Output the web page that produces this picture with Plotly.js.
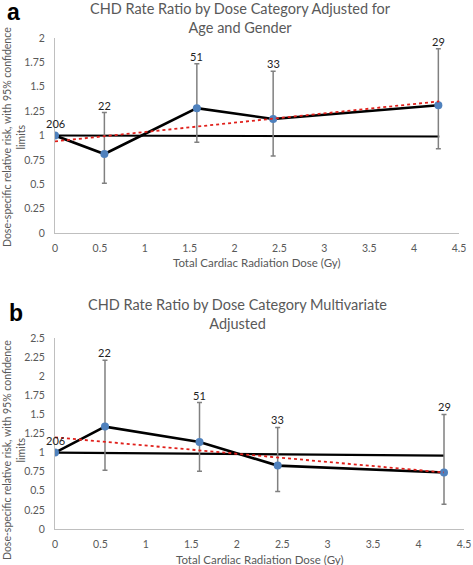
<!DOCTYPE html>
<html><head><meta charset="utf-8">
<script src="https://cdn.plot.ly/plotly-3.0.1.min.js"></script>
<style>html,body{margin:0;padding:0;background:#fff;}</style>
</head><body><div id="chart" style="width:473px;height:565px;"></div>
<script>
// Dose categories (Gy)
const doseA = [0, 0.55, 1.58, 2.43, 4.27];
const doseB = [0, 0.55, 1.59, 2.45, 4.28];
const caseCounts = ["206", "22", "51", "33", "29"];
// Panel a: adjusted for age and gender
const rrA = [1.0, 0.81, 1.28, 1.17, 1.31];
const hiA = [1.0, 1.235, 1.735, 1.66, 1.89];
const loA = [1.0, 0.51, 0.93, 0.79, 0.865];
// Panel b: multivariate adjusted
const rrB = [1.0, 1.34, 1.14, 0.83, 0.74];
const hiB = [1.0, 2.21, 1.655, 1.33, 1.50];
const loB = [1.0, 0.77, 0.755, 0.49, 0.325];
// Reference lines and linear trend endpoints
const refX = [0, 4.28];
const refA = [1.0, 0.99];
const refB = [1.0, 0.96];
const trendX = [0, 4.28];
const trendA = [0.94, 1.35];
const trendB = [1.20, 0.74];
const xTicks = [0, 0.5, 1, 1.5, 2, 2.5, 3, 3.5, 4, 4.5];
const yTicksA = [0, 0.25, 0.5, 0.75, 1, 1.25, 1.5, 1.75, 2];
const yTicksB = [0, 0.25, 0.5, 0.75, 1, 1.25, 1.5, 1.75, 2, 2.25, 2.5];

const FONT = "Lato, 'Open Sans', sans-serif";
const GRAY = "#595959";

function panel(dose, rr, hi, lo, ref, trend, xa, ya) {
  return [
    {x: refX, y: ref, xaxis: xa, yaxis: ya, mode: "lines", line: {color: "#000", width: 2.2}, hoverinfo: "skip"},
    {x: dose, y: rr, xaxis: xa, yaxis: ya, mode: "lines+markers",
     line: {color: "#000", width: 2.6},
     marker: {color: "#4f81bd", size: 8},
     error_y: {type: "data", symmetric: false,
               array: hi.map((h, i) => h - rr[i]),
               arrayminus: lo.map((l, i) => rr[i] - l),
               color: "#808080", thickness: 1.5, width: 2.5}},
    {x: trendX, y: trend, xaxis: xa, yaxis: ya, mode: "lines", line: {color: "#e0201b", width: 1.8, dash: "dot"}}
  ];
}

const data = [].concat(
  panel(doseA, rrA, hiA, loA, refA, trendA, "x", "y"),
  panel(doseB, rrB, hiB, loB, refB, trendB, "x2", "y2")
);

function labels(dose, hi, xr, yr) {
  return dose.map((d, i) => ({
    x: d, y: hi[i], xref: xr, yref: yr, text: caseCounts[i], showarrow: false,
    yanchor: "bottom", yshift: i === 0 ? 4 : -1,
    font: {family: FONT, size: 11, color: "#222"}
  }));
}

const axX = (dom, anchor) => ({
  domain: dom, anchor: anchor, range: [0, 4.5], tickvals: xTicks, ticktext: xTicks.map(String),
  showgrid: false, zeroline: false, showline: true, linecolor: "#bfbfbf", linewidth: 1,
  ticks: "", ticklabelstandoff: 5, tickfont: {family: FONT, size: 10.5, color: GRAY}, fixedrange: true
});
const axY = (dom, anchor, rng, tv) => ({
  domain: dom, anchor: anchor, range: rng, tickvals: tv, ticktext: tv.map(String),
  showgrid: false, zeroline: false, showline: true, linecolor: "#bfbfbf", linewidth: 1,
  ticks: "", ticklabelstandoff: 7, tickfont: {family: FONT, size: 10.5, color: GRAY}, fixedrange: true
});

const paperText = (x, y, text, size, opts) => Object.assign({
  xref: "paper", yref: "paper", x: x / 473, y: 1 - y / 565, text: text, showarrow: false,
  xanchor: "center", yanchor: "middle", font: {family: FONT, size: size, color: GRAY}
}, opts || {});

const annotations = [].concat(
  labels(doseA, hiA, "x", "y"),
  labels(doseB, hiB, "x2", "y2"),
  [
    paperText(13, 12, "<b>a</b>", 23, {font: {family: "Liberation Sans, Arial, sans-serif", size: 23, color: "#000"}}),
    paperText(16, 313, "<b>b</b>", 23, {font: {family: "Liberation Sans, Arial, sans-serif", size: 23, color: "#000"}}),
    paperText(240, 18, "CHD Rate Ratio by Dose Category Adjusted for<br>Age and Gender", 14.5),
    paperText(237, 314, "CHD Rate Ratio by Dose Category Multivariate<br>Adjusted", 14.5),
    paperText(257, 263, "Total Cardiac Radiation Dose (Gy)", 11.5),
    paperText(260, 559, "Total Cardiac Radiation Dose (Gy)", 11.5),
    paperText(14, 137, "Dose-specific relative risk, with 95% confidence<br>limits", 10.5, {textangle: -90}),
    paperText(14, 450, "Dose-specific relative risk, with 95% confidence<br>limits", 10.5, {textangle: -90})
  ]
);

const layout = {
  width: 473, height: 565, margin: {l: 0, r: 0, t: 0, b: 0},
  paper_bgcolor: "#fff", plot_bgcolor: "#fff", showlegend: false,
  xaxis: axX([55 / 473, 459 / 473], "y"),
  yaxis: axY([1 - 233 / 565, 1 - 38 / 565], "x", [0, 2], yTicksA),
  xaxis2: axX([55 / 473, 464 / 473], "y2"),
  yaxis2: axY([1 - 529 / 565, 1 - 338 / 565], "x2", [0, 2.5], yTicksB),
  annotations: annotations
};

Plotly.newPlot("chart", data, layout, {displayModeBar: false, staticPlot: true});
</script></body></html>
